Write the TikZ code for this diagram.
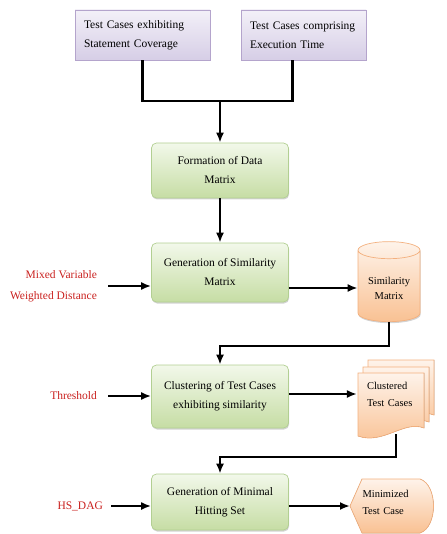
\documentclass[tikz,border=0pt]{standalone}
\usepackage{fontspec}
\setmainfont{Liberation Serif}
\usetikzlibrary{arrows.meta,shapes.geometric,shadows}

\definecolor{purpletop}{HTML}{F3F0F8}
\definecolor{purplebot}{HTML}{D6CEE6}
\definecolor{purpleedge}{HTML}{B4A4CC}
\definecolor{greentop}{HTML}{F2F8EA}
\definecolor{greenbot}{HTML}{C6DDA4}
\definecolor{greenedge}{HTML}{B2CF92}
\definecolor{orangetop}{HTML}{FEF3EA}
\definecolor{orangebot}{HTML}{F9C193}
\definecolor{orangeedge}{HTML}{F3B07E}
\definecolor{labelred}{HTML}{C9201E}

\begin{document}
\begin{tikzpicture}[x=1pt,y=-1pt,->,>={Latex[length=10pt,width=8pt]},line width=2.2pt,
  src node/.style={rectangle,draw=purpleedge,line width=0.7pt,top color=purpletop,bottom color=purplebot,
    minimum height=50pt,inner xsep=9pt,align=left,font=\fontsize{11.5}{19}\selectfont,
    drop shadow={shadow xshift=0.6pt,shadow yshift=-1.5pt,opacity=0.35}},
  proc node/.style={rectangle,rounded corners=5pt,draw=greenedge,line width=0.7pt,top color=greentop,bottom color=greenbot,
    minimum width=137pt,align=center,font=\fontsize{11.5}{19}\selectfont,
    drop shadow={shadow xshift=0.6pt,shadow yshift=-1.5pt,opacity=0.35}},
  in label/.style={anchor=east,inner xsep=10pt,align=right,text=labelred,font=\fontsize{11.5}{21}\selectfont},
  out shape/.style={-,draw=orangeedge,line width=0.7pt,top color=orangetop,bottom color=orangebot},
  out text/.style={align=left,font=\fontsize{10.5}{17}\selectfont}]

  \useasboundingbox (0,0) rectangle (446,534);

  % sources
  \node[src node,text width=117pt] (tcs) at (142.5,35) {Test Cases exhibiting\\Statement Coverage};
  \node[src node,text width=107pt] (tce) at (303.5,35) {Test Cases comprising\\Execution Time};

  % main steps
  \node[proc node,minimum height=55pt] (fdm) at (220,170.5) {Formation of Data\\Matrix};
  \node[proc node,minimum height=59pt] (gsm) at (220,272.5) {Generation of Similarity\\Matrix};
  \node[proc node,minimum height=63pt] (ctc) at (220,396.5) {Clustering of Test Cases\\exhibiting similarity};
  \node[proc node,minimum height=56pt] (gmh) at (220,502) {Generation of Minimal\\Hitting Set};

  % inputs
  \node[in label] (mvwd) at (108,286) {Mixed Variable\\Weighted Distance};
  \node[in label] (thr) at (108,396) {Threshold};
  \node[in label,inner xsep=7pt] (hsd) at (111,506) {HS\_DAG};

  % outputs
  \node[cylinder,shape border rotate=90,aspect=0.35,minimum height=80pt,minimum width=62pt,
    draw=orangeedge,line width=0.7pt,top color=orangetop,bottom color=orangebot,
    align=center,font=\fontsize{10.5}{15}\selectfont,
    drop shadow={shadow xshift=0.6pt,shadow yshift=-1.5pt,opacity=0.35}] (sm) at (389,288) {Similarity\\Matrix};

  \foreach \dx/\dy in {10/-13,5/-6,0/0}
    \filldraw[out shape] (358+\dx,373+\dy) -- (424+\dx,373+\dy) -- (424+\dx,428+\dy)
      .. controls (404+\dx,420+\dy) and (383+\dx,445+\dy) .. (358+\dx,436+\dy) -- cycle;
  \node[out text,minimum width=66pt,text width=48pt,inner xsep=9pt] (ctd) at (391,394) {Clustered\\Test Cases};
  \coordinate (ctdb) at (396,434);

  \filldraw[out shape] (350,506) -- (362,479) -- (420,479) .. controls (438,485) and (438,527) .. (420,533)
    -- (362,533) -- cycle;
  \node[out text,minimum width=85pt,text width=60pt,inner xsep=12pt,inner ysep=0pt] (mtc) at (392.5,502) {Minimized\\Test Case};

  \coordinate (j1) at (220,101);
  \coordinate (j2) at (300,346);
  \coordinate (j3) at (300,457);

  \draw[-] (tcs.south) |- (j1);
  \draw[-] ([xshift=-11pt]tce.south) |- (j1);
  \draw (j1) -- (fdm);
  \draw (fdm) -- (gsm);
  \draw (mvwd.east) -- (mvwd.east -| gsm.west);
  \draw (gsm.east |- sm.west) -- (sm.west);
  \draw (sm.south) |- (j2) -| (ctc.north);
  \draw (thr.east) -- (thr.east -| ctc.west);
  \draw (ctc.east |- ctd.west) -- (ctd.west);
  \draw (ctdb) |- (j3) -| (gmh.north);
  \draw (hsd.east) -- (hsd.east -| gmh.west);
  \draw (gmh.east |- 0,506) -- (350,506);

\end{tikzpicture}
\end{document}
